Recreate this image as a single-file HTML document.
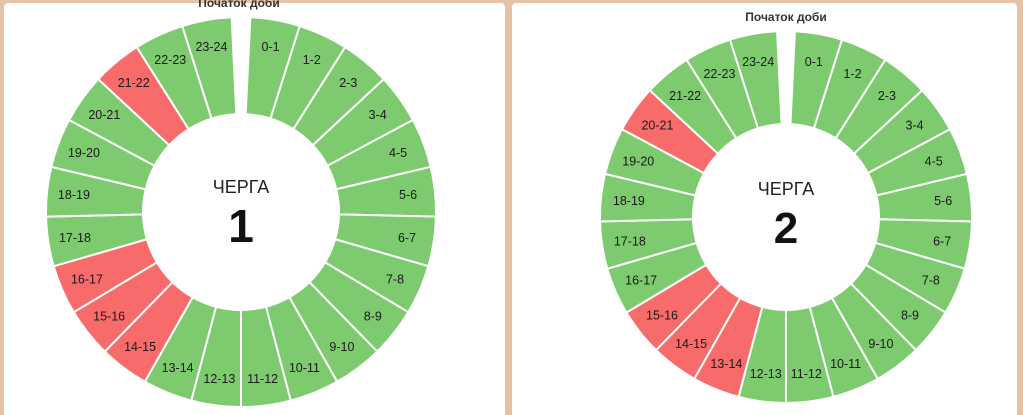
<!DOCTYPE html>
<html><head><meta charset="utf-8"><style>
html,body{margin:0;padding:0;width:1023px;height:415px;overflow:hidden;background:#e6c2a6;}
svg{display:block}
text{font-family:"Liberation Sans",sans-serif}
</style></head><body>
<svg id="s" width="1023" height="415" xmlns="http://www.w3.org/2000/svg">
<rect x="4" y="3" width="501" height="420" rx="4" fill="#fff"/>
<rect x="512" y="3" width="505" height="420" rx="4" fill="#fff"/>
<g id="c1"></g><g id="c2"></g>
<text x="239" y="7" text-anchor="middle" font-size="12" font-weight="bold" fill="#333">Початок доби</text>
<text x="786" y="21" text-anchor="middle" font-size="12" font-weight="bold" fill="#333">Початок доби</text>
<text x="241" y="193" text-anchor="middle" font-size="18" fill="#222">ЧЕРГА</text>
<text x="241" y="242" text-anchor="middle" font-size="46" font-weight="bold" fill="#111">1</text>
<text x="786" y="195" text-anchor="middle" font-size="18" fill="#222">ЧЕРГА</text>
<text x="786" y="243" text-anchor="middle" font-size="44" font-weight="bold" fill="#111">2</text>
</svg>
<script>
function donut(id,cx,cy,R,r,red,lr){
 var g=document.getElementById(id),gap=5.5,s=(360-gap)/24,h="";
 function p(a,rr){var t=(a-90)*Math.PI/180;return [cx+rr*Math.cos(t),cy+rr*Math.sin(t)];}
 for(var i=0;i<24;i++){
  var a0=gap/2+i*s,a1=a0+s;
  var A=p(a0,R),B=p(a1,R),C=p(a1,r),D=p(a0,r);
  var col=red.indexOf(i)>=0?"#f76b6b":"#7dcb6e";
  h+='<path d="M'+A+' A'+R+','+R+' 0 0 1 '+B+' L'+C+' A'+r+','+r+' 0 0 0 '+D+'Z" fill="'+col+'" stroke="#fff" stroke-width="2"/>';
  var L=p((a0+a1)/2,lr);
  h+='<text x="'+L[0]+'" y="'+(L[1]+4.5)+'" text-anchor="middle" font-size="12.5" fill="#1a1a1a">'+i+'-'+(i+1)+'</text>';
 }
 g.innerHTML=h;
}
donut("c1",241,212,195,98,[14,15,16,21],168);
donut("c2",786,217,186,93,[13,14,15,20],158);
</script>
</body></html>
